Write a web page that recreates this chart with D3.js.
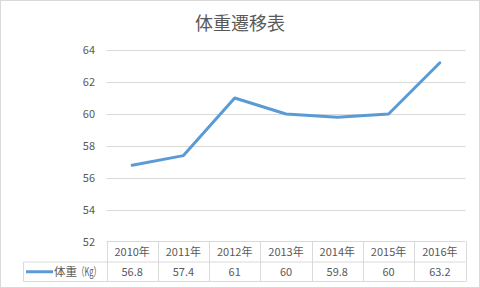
<!DOCTYPE html>
<html>
<head>
<meta charset="utf-8">
<script src="https://cdn.jsdelivr.net/npm/d3@7"></script>
<style>
  body { margin: 0; background: #fff; }
  svg { display: block; font-family: "Noto Sans CJK JP", "Noto Sans", sans-serif; }
</style>
</head>
<body>
<div class="chart"></div>
<script>
// data
var years = ["2010年", "2011年", "2012年", "2013年", "2014年", "2015年", "2016年"];
var weights = [56.8, 57.4, 61, 60, 59.8, 60, 63.2];
var weightLabels = ["56.8", "57.4", "61", "60", "59.8", "60", "63.2"];
var yTicks = [52, 54, 56, 58, 60, 62, 64];
var seriesName = ["体重", "（Kg）"];
var title = "体重遷移表";

var W = 480, H = 288;
var plot = { left: 106.5, right: 465.5, top: 50, bottom: 242 };
var rowH = 20;
var gridColor = "#d9d9d9", textColor = "#595959", lineColor = "#5b9bd5";

var svg = d3.select(".chart").append("svg")
    .attr("width", W)
    .attr("height", H);

// outer border
svg.append("rect")
    .attr("x", 0.5).attr("y", 0.5)
    .attr("width", W - 1).attr("height", H - 1)
    .attr("fill", "#fff")
    .attr("stroke", gridColor);

// title
svg.append("text")
    .attr("x", 240)
    .attr("y", 30)
    .attr("text-anchor", "middle")
    .style("font-size", "18px")
    .style("fill", textColor)
    .text(title);

// scales
var x = d3.scaleBand().domain(years).range([plot.left, plot.right]).padding(0);
var y = d3.scaleLinear().domain([52, 64]).range([plot.bottom, plot.top]);

// gridlines
svg.append("g")
    .selectAll("line")
    .data(yTicks.slice(1))
    .enter()
    .append("line")
    .attr("x1", plot.left)
    .attr("x2", plot.right)
    .attr("y1", function (d) { return Math.round(y(d)) + 0.5; })
    .attr("y2", function (d) { return Math.round(y(d)) + 0.5; })
    .attr("stroke", gridColor);

// y tick labels
svg.append("g")
    .selectAll("text")
    .data(yTicks)
    .enter()
    .append("text")
    .attr("x", 95)
    .attr("y", function (d) { return y(d); })
    .attr("dy", "0.35em")
    .attr("text-anchor", "end")
    .style("font-size", "11px")
    .style("fill", textColor)
    .text(function (d) { return d; });

// line
var line = d3.line()
    .x(function (d, i) { return x(years[i]) + x.bandwidth() / 2; })
    .y(function (d) { return y(d); });

svg.append("path")
    .datum(weights)
    .attr("d", line)
    .attr("fill", "none")
    .attr("stroke", lineColor)
    .attr("stroke-width", 3)
    .attr("stroke-linejoin", "round")
    .attr("stroke-linecap", "round");

// data table
var tTop = 241.5, tMid = tTop + rowH + 0.5, tBot = tMid + rowH - 0.5;
var tableLeft = 23.5;
var table = svg.append("g")
    .attr("stroke", gridColor)
    .attr("fill", "none");

table.append("line").attr("x1", plot.left).attr("x2", plot.right).attr("y1", tTop).attr("y2", tTop);
table.append("line").attr("x1", tableLeft).attr("x2", plot.right).attr("y1", tMid).attr("y2", tMid);
table.append("line").attr("x1", tableLeft).attr("x2", plot.right).attr("y1", tBot).attr("y2", tBot);
table.append("line").attr("x1", tableLeft).attr("x2", tableLeft).attr("y1", tMid).attr("y2", tBot);

table.selectAll("line.col")
    .data(years.concat(["end"]))
    .enter()
    .append("line")
    .attr("class", "col")
    .attr("x1", function (d) { return Math.round(d === "end" ? plot.right : x(d)) + 0.5; })
    .attr("x2", function (d) { return Math.round(d === "end" ? plot.right : x(d)) + 0.5; })
    .attr("y1", tTop)
    .attr("y2", tBot);

// year labels
svg.append("g")
    .selectAll("text")
    .data(years)
    .enter()
    .append("text")
    .attr("x", function (d) { return x(d) + x.bandwidth() / 2; })
    .attr("y", (tTop + tMid) / 2)
    .attr("dy", "0.35em")
    .attr("text-anchor", "middle")
    .style("font-size", "11px")
    .style("fill", textColor)
    .text(function (d) { return d; });

// value labels
svg.append("g")
    .selectAll("text")
    .data(weightLabels)
    .enter()
    .append("text")
    .attr("x", function (d, i) { return x(years[i]) + x.bandwidth() / 2; })
    .attr("y", (tMid + tBot) / 2)
    .attr("dy", "0.35em")
    .attr("text-anchor", "middle")
    .style("font-size", "11px")
    .style("fill", textColor)
    .text(function (d) { return d; });

// legend key in table
svg.append("line")
    .attr("x1", 26)
    .attr("x2", 53)
    .attr("y1", (tMid + tBot) / 2)
    .attr("y2", (tMid + tBot) / 2)
    .attr("stroke", lineColor)
    .attr("stroke-width", 3);

var legendText = svg.append("text")
    .attr("y", (tMid + tBot) / 2)
    .attr("dy", "0.35em")
    .style("font-size", "11.5px")
    .style("fill", textColor);

legendText.append("tspan")
    .attr("x", 54)
    .text(seriesName[0]);

svg.append("text")
    .attr("x", 77)
    .attr("y", (tMid + tBot) / 2)
    .attr("dy", "0.35em")
    .style("font-size", "11.5px")
    .style("fill", textColor)
    .attr("textLength", 24)
    .attr("lengthAdjust", "spacingAndGlyphs")
    .text(seriesName[1]);
</script>
</body>
</html>
